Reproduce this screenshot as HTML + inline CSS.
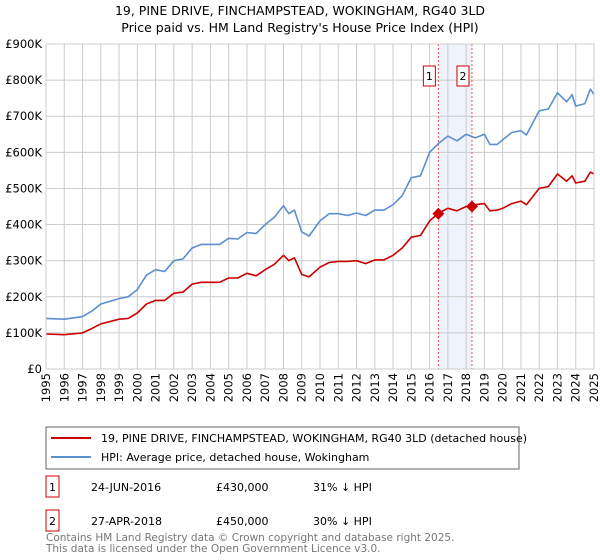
<!DOCTYPE html>
<html><head><meta charset="utf-8"><style>
body{margin:0;background:#fff;font-family:"Liberation Sans","DejaVu Sans",sans-serif;}
svg{display:block}
</style></head><body>
<svg width="600" height="560" xmlns="http://www.w3.org/2000/svg" font-family="DejaVu Sans, Liberation Sans, sans-serif">
<text x="300" y="15" text-anchor="middle" font-size="12.5">19, PINE DRIVE, FINCHAMPSTEAD, WOKINGHAM, RG40 3LD</text>
<text x="300" y="32" text-anchor="middle" font-size="12.5">Price paid vs. HM Land Registry's House Price Index (HPI)</text>
<g id="plot"></g>
<g>
<rect x="46" y="427" width="473" height="42" fill="#fff" stroke="#666"/>
<line x1="51" y1="438" x2="91" y2="438" stroke="#cc0000" stroke-width="2"/>
<text x="101" y="442" font-size="11">19, PINE DRIVE, FINCHAMPSTEAD, WOKINGHAM, RG40 3LD (detached house)</text>
<line x1="51" y1="457" x2="91" y2="457" stroke="#5b8fd0" stroke-width="2"/>
<text x="101" y="461" font-size="11">HPI: Average price, detached house, Wokingham</text>
</g>
<g font-size="11">
<rect x="46" y="476" width="13" height="21" fill="#fff" stroke="#cc0000"/>
<text x="52.5" y="491" text-anchor="middle">1</text>
<text x="91" y="491">24-JUN-2016</text>
<text x="216" y="491">£430,000</text>
<text x="313" y="491">31% ↓ HPI</text>
<rect x="46" y="510" width="13" height="21" fill="#fff" stroke="#cc0000"/>
<text x="52.5" y="525" text-anchor="middle">2</text>
<text x="91" y="525">27-APR-2018</text>
<text x="216" y="525">£450,000</text>
<text x="313" y="525">30% ↓ HPI</text>
</g>
<text x="46" y="541" font-size="10.5" fill="#777">Contains HM Land Registry data © Crown copyright and database right 2025.</text>
<text x="46" y="552" font-size="10.5" fill="#777">This data is licensed under the Open Government Licence v3.0.</text>
</svg>
<script>
const hpiYears=[1995,1996,1997,1997.5,1998,1999,1999.5,2000,2000.5,2001,2001.5,2002,2002.5,2003,2003.5,2004,2004.5,2005,2005.5,2006,2006.5,2007,2007.5,2008,2008.3,2008.6,2009,2009.4,2010,2010.5,2011,2011.5,2012,2012.5,2013,2013.5,2014,2014.5,2015,2015.5,2016,2016.5,2017,2017.5,2018,2018.5,2019,2019.3,2019.7,2020,2020.5,2021,2021.3,2022,2022.5,2023,2023.5,2023.8,2024,2024.5,2024.8,2025];
const hpiValues=[140,138,145,160,180,195,200,220,260,275,270,300,305,335,345,345,345,362,360,378,375,400,420,452,430,440,380,368,410,430,430,425,432,425,440,440,455,480,530,535,600,625,645,632,650,640,650,622,622,635,655,660,648,715,720,765,740,760,728,735,775,760];
const propYears=hpiYears;
const propValues=[97,95,100,112,125,138,140,155,180,190,190,210,213,235,240,240,240,252,252,265,258,275,290,315,300,308,262,255,282,295,298,298,300,292,302,302,315,335,365,370,410,432,445,438,450,455,458,438,440,445,458,465,455,500,505,540,520,535,515,520,545,540];
const saleYears=[2016.48,2018.32];
const saleValues=[430,450];
const saleLabels=["1","2"];
const yTicks=[0,100,200,300,400,500,600,700,800,900];
const yTickLabels=["£0","£100K","£200K","£300K","£400K","£500K","£600K","£700K","£800K","£900K"];
const xTicks=[1995,1996,1997,1998,1999,2000,2001,2002,2003,2004,2005,2006,2007,2008,2009,2010,2011,2012,2013,2014,2015,2016,2017,2018,2019,2020,2021,2022,2023,2024,2025];

const NS="http://www.w3.org/2000/svg";
const L=46,R=594,T=44,B=369;
const xs=y=>L+(y-1995)/30*(R-L);
const ys=v=>B-v/900*(B-T);
const g=document.getElementById('plot');
function mk(t,a){const e=document.createElementNS(NS,t);for(const k in a)e.setAttribute(k,a[k]);g.appendChild(e);return e;}
const bg=mk('rect',{x:L,y:T,width:R-L,height:B-T,fill:'#fff'});


const sh=mk('rect',{x:xs(saleYears[0]),y:T,width:xs(saleYears[1])-xs(saleYears[0]),height:B-T,fill:'#eef3fc'});


yTicks.forEach((v,i)=>{
 const l=mk('line',{x1:L,x2:R,y1:ys(v),y2:ys(v),stroke:'#ccc','stroke-width':1});
 
 
 const t=mk('text',{x:L-4,y:ys(v)+4,'text-anchor':'end','font-size':11.5});
 
 
 t.textContent=yTickLabels[i];
});
xTicks.forEach(y=>{
 const l=mk('line',{x1:xs(y),x2:xs(y),y1:T,y2:B,stroke:'#ccc','stroke-width':1});
 
 
 const t=mk('text',{x:0,y:0,'text-anchor':'end','font-size':11.5,transform:`translate(${xs(y)+4},${B+4}) rotate(-90)`});
 
 
 t.textContent=y;
});
saleYears.forEach((y,i)=>{
 const l=mk('line',{x1:xs(y),x2:xs(y),y1:T,y2:B,stroke:'#ee5555','stroke-width':1,'stroke-dasharray':'2,2'});
 
 
});
function path(xa,va,col,name){
 const d=xa.map((y,i)=>(i?'L':'M')+xs(y).toFixed(1)+','+ys(va[i]).toFixed(1)).join('');
 const p=mk('path',{d,fill:'none',stroke:col,'stroke-width':1.6,'stroke-linejoin':'round'});
 
 
}
path(hpiYears,hpiValues,'#5b8fd0','hpi-line');
path(propYears,propValues,'#cc0000','property-line');
saleYears.forEach((y,i)=>{
 const x=xs(y),yy=ys(saleValues[i]);
 const p=mk('path',{d:`M${x},${yy-6}L${x+6},${yy}L${x},${yy+6}L${x-6},${yy}Z`,fill:'#cc0000'});
 
 
 const b=mk('rect',{x:x-15,y:66,width:12,height:20,fill:'#fff',stroke:'#cc0000'});
 
 
 const t=mk('text',{x:x-9,y:80,'text-anchor':'middle','font-size':11});
 
 
 t.textContent=saleLabels[i];
});
const ax=mk('rect',{x:L,y:T,width:R-L,height:B-T,fill:'none',stroke:'#ccc'});


</script>
</body></html>
